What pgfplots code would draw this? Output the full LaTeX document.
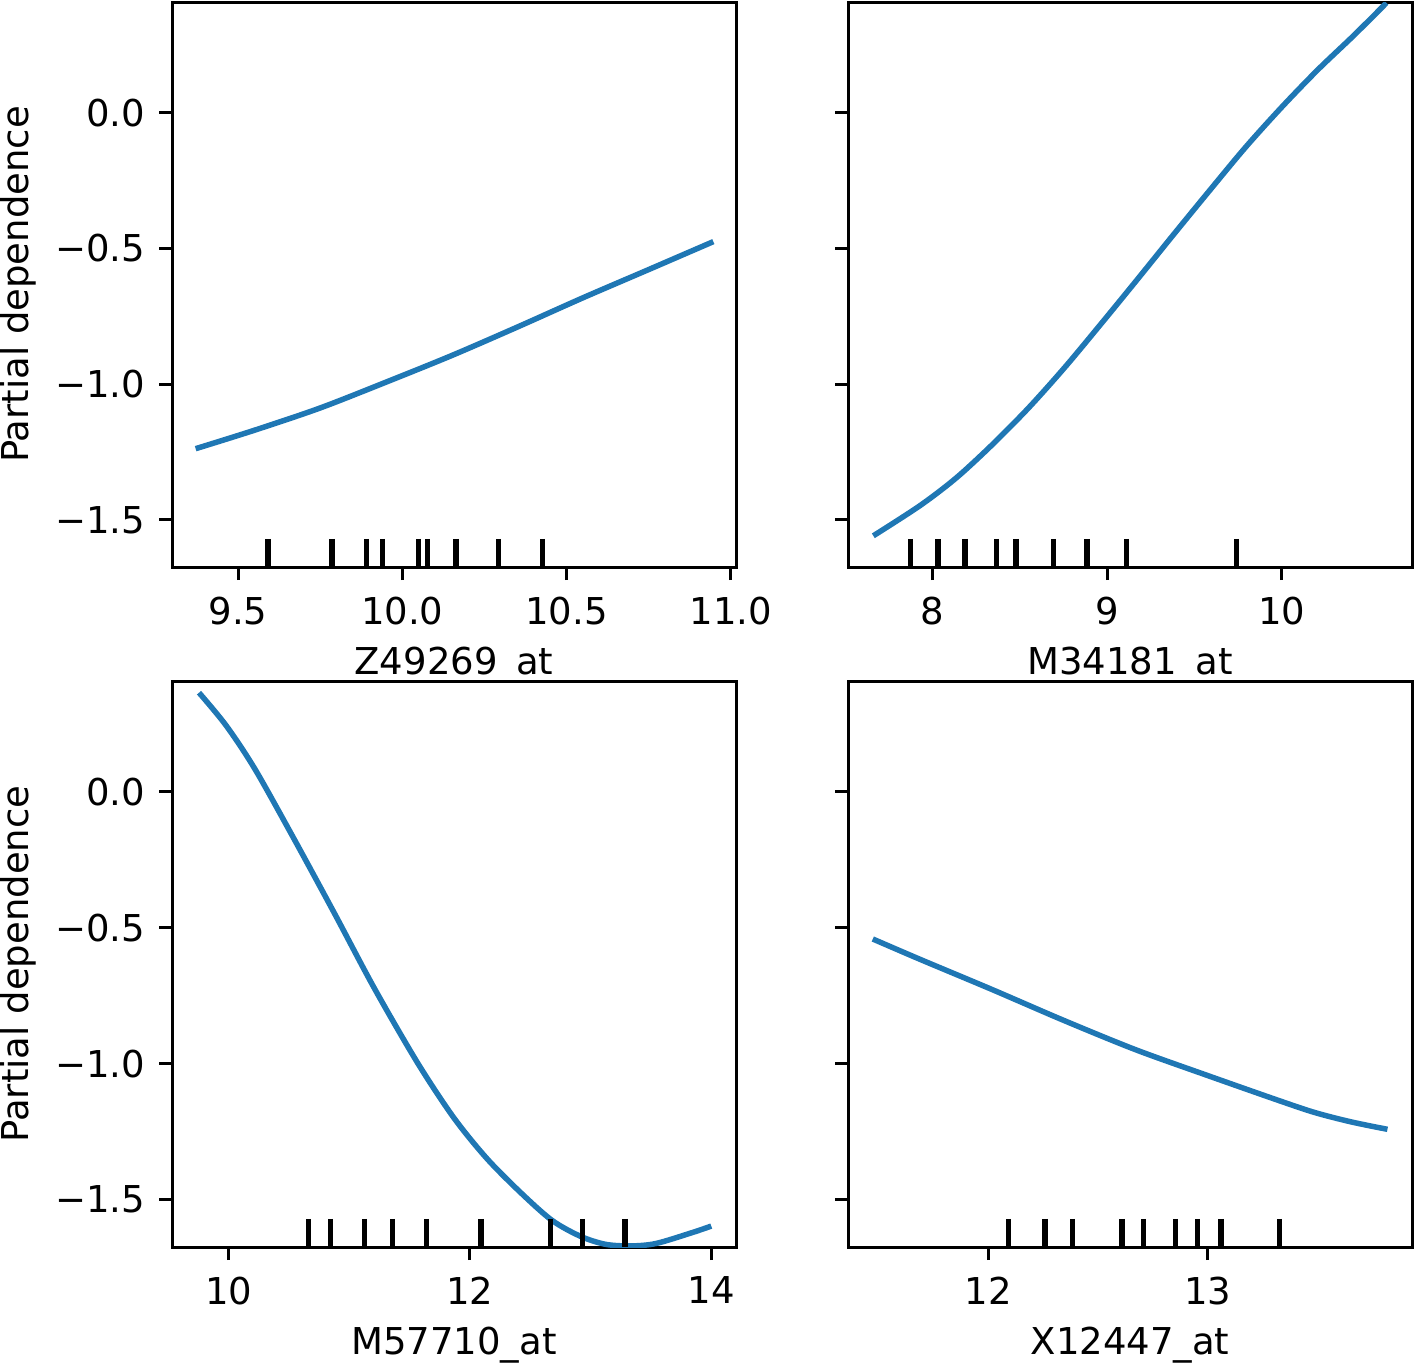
\documentclass[border=0pt]{standalone}
\usepackage{fontspec}
\setmainfont{DejaVu Sans}
\usepackage{pgfplots}
\pgfplotsset{compat=1.18}

\definecolor{pdblue}{HTML}{1F77B4}

\pgfplotsset{
  pdp/.style={
    scale only axis,
    width=169.2pt, height=169.5pt,
    ymin=-1.674, ymax=0.408,
    tick pos=left,
    tick align=outside,
    major tick length=3.9pt,
    tick style={black, line width=0.9pt},
    axis line style={black, line width=0.9pt},
    ytick={-1.5,-1,-0.5,0},
    ticklabel style={font=\fontsize{11.1}{13}\selectfont},
    xticklabel style={yshift=-1.5pt},
    yticklabel style={xshift=-0.6pt},
    label style={font=\fontsize{11.1}{13}\selectfont},
    xlabel style={at={(axis description cs:0.5,-0.174)}, anchor=center},
  },
  leftcol/.style={
    yticklabels={−1.5,−1.0,−0.5,0.0},
    ylabel={Partial dependence},
    ylabel style={at={(axis description cs:-0.273,0.5)}, anchor=center},
  },
  rightcol/.style={yticklabels={,,,}},
  pdline/.style={pdblue, line width=1.65pt, smooth, tension=0.5},
  decile/.style={only marks, mark=|, mark size=4.24pt, black,
    mark options={line width=1.6pt}},
}

\begin{document}
\begin{tikzpicture}
\useasboundingbox (0,0) rectangle (424.8pt,-409.5pt);

% top left
\begin{axis}[pdp, leftcol,
    at={(51.6pt,-0.6pt)}, anchor=north west,
    xmin=9.299, xmax=11.016,
    xtick={9.5,10,10.5,11}, xticklabels={9.5,10.0,10.5,11.0},
    xlabel={Z49269\_at}]
\addplot[pdline] coordinates {
  (9.371,-1.238) (9.55,-1.170) (9.75,-1.088) (9.95,-0.993)
  (10.15,-0.895) (10.35,-0.790) (10.55,-0.682) (10.75,-0.578)
  (10.947,-0.475)
};
\addplot[decile] coordinates {
  (9.591,-1.622) (9.786,-1.622) (9.891,-1.622) (9.939,-1.622)
  (10.050,-1.622) (10.077,-1.622) (10.164,-1.622) (10.292,-1.622)
  (10.426,-1.622)
};
\end{axis}

% top right
\begin{axis}[pdp, rightcol,
    at={(254.4pt,-0.6pt)}, anchor=north west,
    xmin=7.515, xmax=10.745,
    xtick={8,9,10}, xticklabels={8,9,10},
    xlabel={M34181\_at}]
\addplot[pdline] coordinates {
  (7.660,-1.559) (7.929,-1.447) (8.136,-1.345) (8.343,-1.222)
  (8.550,-1.087) (8.757,-0.938) (8.964,-0.778) (9.171,-0.615)
  (9.378,-0.450) (9.584,-0.288) (9.792,-0.127) (9.998,0.020)
  (10.205,0.158) (10.412,0.285) (10.599,0.405)
};
\addplot[decile] coordinates {
  (7.872,-1.622) (8.030,-1.622) (8.184,-1.622) (8.364,-1.622)
  (8.477,-1.622) (8.692,-1.622) (8.883,-1.622) (9.109,-1.622)
  (9.741,-1.622)
};
\end{axis}

% bottom left
\begin{axis}[pdp, leftcol,
    at={(51.6pt,-204.3pt)}, anchor=north west,
    height=169.8pt,
    xmin=9.530, xmax=14.205,
    xtick={10,12,14}, xticklabels={10,12,14},
    xlabel={M57710\_at}]
\addplot[pdline] coordinates {
  (9.754,0.365) (9.979,0.244) (10.219,0.083) (10.548,-0.178)
  (10.877,-0.447) (11.207,-0.722) (11.566,-0.997) (11.865,-1.198)
  (12.135,-1.346) (12.404,-1.467) (12.674,-1.574) (12.913,-1.634)
  (13.123,-1.664) (13.332,-1.670) (13.542,-1.661) (13.841,-1.621)
  (14.000,-1.597)
};
\addplot[decile] coordinates {
  (10.663,-1.622) (10.842,-1.622) (11.126,-1.622) (11.355,-1.622)
  (11.642,-1.622) (12.092,-1.622) (12.670,-1.622) (12.932,-1.622)
  (13.285,-1.622)
};
\end{axis}

% bottom right
\begin{axis}[pdp, rightcol,
    at={(254.4pt,-204.3pt)}, anchor=north west,
    height=169.8pt,
    xmin=11.360, xmax=13.930,
    xtick={12,13}, xticklabels={12,13},
    xlabel={X12447\_at}]
\addplot[pdline] coordinates {
  (11.473,-0.541) (11.686,-0.615) (12.014,-0.726) (12.342,-0.840)
  (12.670,-0.948) (12.998,-1.043) (13.326,-1.136) (13.490,-1.180)
  (13.654,-1.214) (13.818,-1.241)
};
\addplot[decile] coordinates {
  (12.091,-1.622) (12.258,-1.622) (12.384,-1.622) (12.608,-1.622)
  (12.707,-1.622) (12.853,-1.622) (12.952,-1.622) (13.060,-1.622)
  (13.325,-1.622)
};
\end{axis}
\end{tikzpicture}
\end{document}
